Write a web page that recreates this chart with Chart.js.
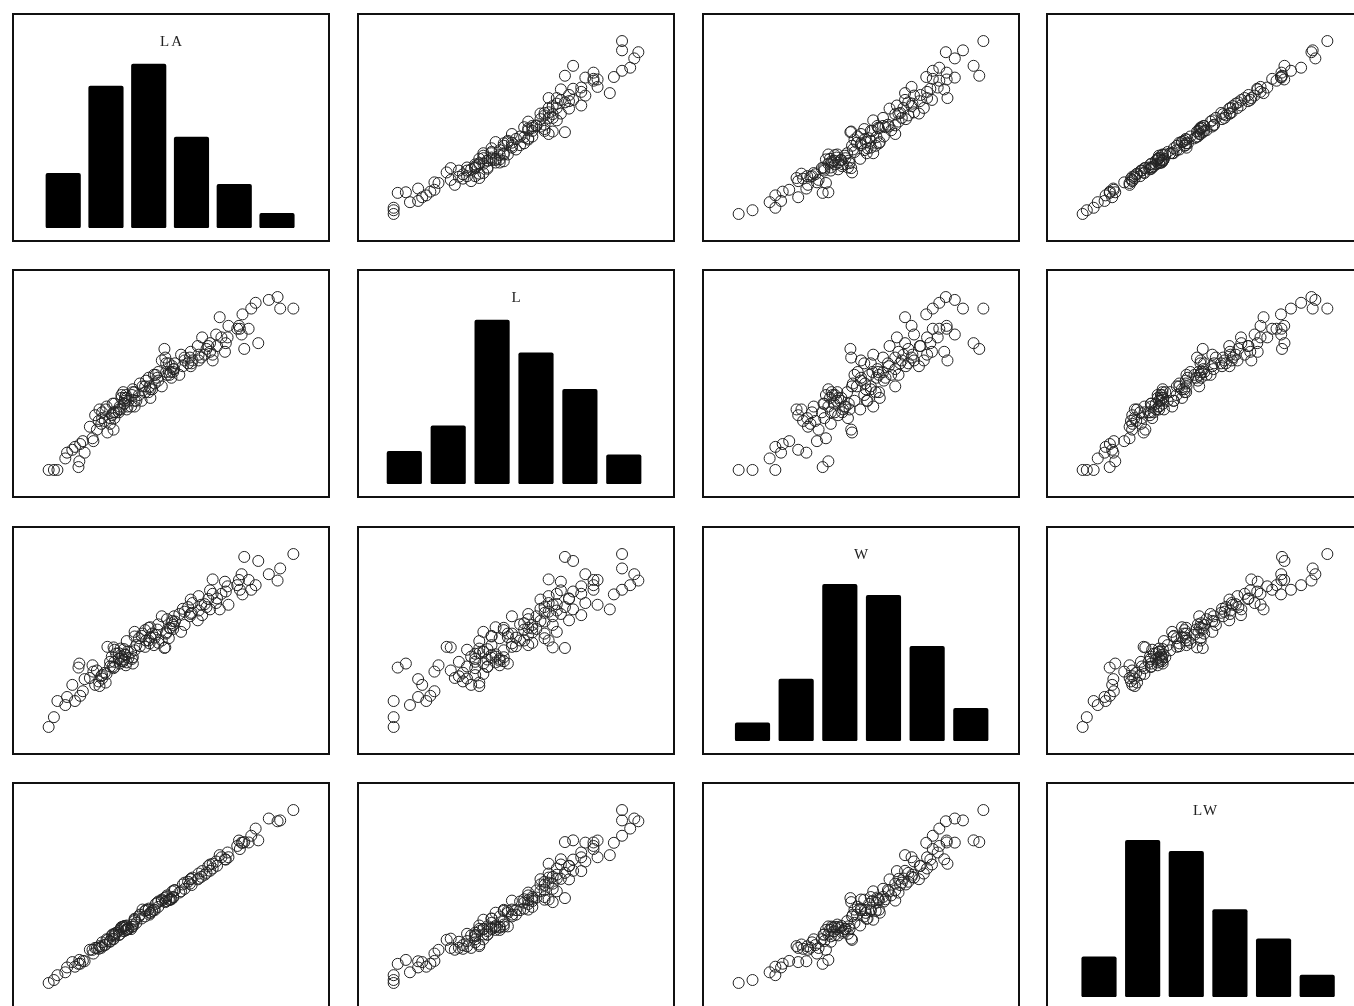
<!DOCTYPE html>
<html>
<head>
<meta charset="utf-8">
<title>Scatterplot matrix: LA, L, W, LW</title>
<script src="https://cdn.jsdelivr.net/npm/chart.js@4.4.1/dist/chart.umd.min.js"></script>
<style>
  html, body { margin: 0; padding: 0; background: #fff; overflow: hidden; width: 1354px; height: 1006px; }
  .panel { position: absolute; width: 318px; height: 229px; box-sizing: border-box; border: 2px solid #111; background: #fff; }
  .panel canvas { display: block; }
</style>
</head>
<body>
<script>
// Leaf measurements, one entry per leaf (140 leaves).
// L = length (cm), W = width (cm), LW = length x width, LA = leaf area (cm2)
const L = [
  4.0, 4.0, 4.0, 4.4, 4.1, 4.3, 4.6, 4.8, 4.9, 5.0,
  4.7, 4.6, 5.0, 5.1, 5.4, 5.3, 5.9, 6.1, 5.7, 5.5,
  6.0, 5.7, 6.2, 6.0, 6.3, 6.6, 6.0, 5.6, 5.4, 5.8,
  6.1, 6.7, 6.4, 6.7, 6.2, 5.8, 6.4, 6.1, 6.6, 6.4,
  6.2, 6.8, 6.7, 6.5, 6.9, 6.0, 6.3, 8.2, 7.9, 7.3,
  7.1, 7.7, 7.7, 8.0, 7.2, 7.4, 7.7, 8.3, 6.9, 7.9,
  8.6, 7.3, 7.8, 8.2, 7.7, 8.7, 8.0, 7.6, 8.3, 8.6,
  8.0, 8.1, 8.9, 8.6, 8.9, 7.9, 7.3, 7.4, 7.3, 7.4,
  8.4, 7.8, 7.8, 8.4, 8.0, 9.3, 9.0, 9.6, 9.8, 9.4,
  10.0, 9.9, 9.6, 9.6, 9.0, 8.7, 8.9, 8.4, 8.2, 8.1,
  7.8, 5.8, 5.9, 5.6, 6.0, 6.1, 6.2, 6.3, 6.4, 6.5,
  6.5, 6.6, 6.6, 6.7, 6.8, 6.8, 6.9, 6.3, 6.2, 6.4,
  6.7, 6.9, 6.1, 6.5, 7.0, 7.1, 7.2, 7.3, 7.4, 7.5,
  7.5, 7.6, 7.7, 7.8, 7.0, 7.2, 7.6, 7.9, 8.1, 8.3
];
const W = [
  2.00, 2.17, 2.45, 2.38, 3.03, 3.10, 2.52, 2.45, 2.54, 2.62,
  2.73, 2.83, 2.96, 3.07, 3.38, 3.39, 2.73, 2.77, 2.79, 2.85,
  2.90, 2.94, 2.92, 3.02, 3.04, 3.07, 3.13, 3.13, 2.98, 2.84,
  2.71, 3.21, 3.25, 3.33, 3.31, 3.34, 3.42, 3.49, 3.54, 3.58,
  3.65, 3.62, 3.72, 3.73, 3.39, 3.27, 3.17, 3.37, 3.38, 3.42,
  3.50, 3.54, 3.62, 3.65, 3.69, 3.77, 3.83, 3.85, 3.92, 3.92,
  3.94, 3.96, 4.00, 4.08, 4.08, 4.15, 4.13, 4.21, 4.23, 4.31,
  4.31, 4.37, 4.38, 4.44, 4.46, 3.77, 3.87, 3.71, 3.60, 3.46,
  4.04, 4.15, 4.27, 4.35, 4.02, 4.04, 4.12, 4.38, 4.46, 4.30,
  4.54, 4.65, 4.75, 5.00, 4.55, 4.65, 4.55, 4.88, 4.95, 4.52,
  4.56, 3.05, 3.22, 2.88, 3.18, 3.28, 3.10, 3.35, 3.20, 3.22,
  3.12, 3.15, 3.18, 3.14, 3.56, 3.10, 3.62, 3.05, 3.30, 3.57,
  3.68, 3.45, 3.36, 3.26, 3.55, 3.78, 3.50, 3.72, 3.64, 3.92,
  3.70, 3.84, 3.98, 3.50, 3.40, 3.80, 4.05, 4.12, 3.96, 4.22
];
const LW = [
  8.00, 8.68, 9.80, 10.47, 12.42, 13.33, 11.59, 11.76, 12.45, 13.10,
  12.83, 13.02, 14.80, 15.66, 18.25, 17.97, 16.11, 16.90, 15.90, 15.68,
  17.40, 16.76, 18.10, 18.12, 19.15, 20.26, 18.78, 17.53, 16.09, 16.47,
  16.53, 21.51, 20.80, 22.31, 20.52, 19.37, 21.89, 21.29, 23.36, 22.91,
  22.63, 24.62, 24.92, 24.25, 23.39, 19.62, 19.97, 27.63, 26.70, 24.97,
  24.85, 27.26, 27.87, 29.20, 26.57, 27.90, 29.49, 31.96, 27.05, 30.97,
  33.88, 28.91, 31.20, 33.46, 31.42, 36.11, 33.04, 32.00, 35.11, 37.07,
  34.48, 35.40, 38.98, 38.18, 39.69, 29.78, 28.25, 27.45, 26.28, 25.60,
  33.94, 32.37, 33.31, 36.54, 32.16, 37.57, 37.08, 42.05, 43.71, 40.42,
  45.40, 46.04, 45.60, 48.00, 40.95, 40.46, 40.50, 40.99, 40.59, 36.61,
  35.57, 17.69, 19.00, 16.13, 19.08, 20.01, 19.22, 21.11, 20.48, 20.93,
  20.28, 20.79, 20.99, 21.04, 24.21, 21.08, 24.98, 19.22, 20.46, 22.85,
  24.66, 23.81, 20.50, 21.19, 24.85, 26.84, 25.20, 27.16, 26.94, 29.40,
  27.75, 29.18, 30.65, 27.30, 23.80, 27.36, 30.78, 32.55, 32.08, 35.03
];
const LA = [
  5.5, 6.1, 6.5, 7.4, 8.9, 9.0, 7.6, 8.5, 9.1, 9.4,
  8.2, 9.6, 10.6, 10.5, 12.9, 12.2, 10.8, 12.0, 11.2, 10.2,
  11.6, 11.9, 12.1, 12.9, 13.0, 14.3, 13.0, 12.5, 11.0, 11.6,
  11.3, 15.1, 14.2, 15.3, 14.5, 13.0, 15.5, 14.4, 15.8, 16.1,
  15.3, 17.3, 16.9, 17.1, 16.5, 13.2, 14.1, 18.7, 18.8, 17.5,
  16.6, 19.2, 18.9, 20.6, 17.9, 19.7, 19.9, 22.5, 18.4, 21.6,
  23.0, 20.4, 21.0, 23.5, 21.4, 24.6, 23.3, 21.7, 24.7, 25.2,
  24.2, 23.9, 27.3, 25.9, 27.0, 21.0, 19.0, 19.4, 17.7, 18.0,
  23.9, 21.9, 22.6, 25.7, 22.6, 25.0, 26.0, 28.6, 29.1, 27.6,
  31.6, 30.6, 31.9, 33.4, 27.2, 27.5, 28.3, 29.4, 27.8, 25.6,
  24.2, 12.5, 12.7, 11.5, 13.5, 13.5, 13.6, 14.1, 14.6, 13.8,
  14.4, 13.8, 15.0, 14.0, 17.1, 15.1, 16.2, 12.8, 14.9, 15.3,
  16.5, 17.0, 13.7, 14.2, 17.6, 18.0, 16.9, 19.3, 18.9, 19.8,
  19.7, 19.6, 21.8, 18.4, 15.9, 19.5, 20.8, 22.9, 21.7, 23.7
];

// Histogram counts (six equal-width classes per variable)
const laCounts = [15, 39, 45, 25, 12, 4];
const lCounts  = [9, 16, 45, 36, 26, 8];
const wCounts  = [5, 17, 43, 40, 26, 9];
const lwCounts = [11, 43, 40, 24, 16, 6];

// Variable names shown on the diagonal
const varLabels = ['LA', 'L', 'W', 'LW'];

const variables = [
  { label: varLabels[0], values: LA, counts: laCounts, binRange: [-1.151, 6.193] },
  { label: varLabels[1], values: L,  counts: lCounts,  binRange: [-1.032, 6.121] },
  { label: varLabels[2], values: W,  counts: wCounts,  binRange: [-1.111, 6.081] },
  { label: varLabels[3], values: LW, counts: lwCounts, binRange: [-1.169, 6.027] }
];

const colLeft = [12, 357, 702, 1046];
const rowTop  = [13, 269, 526, 782];
const CANVAS_W = 314, CANVAS_H = 225;

function paddedRange(vals, pad) {
  const mn = Math.min(...vals), mx = Math.max(...vals), r = mx - mn;
  return [mn - r * pad, mx + r * pad];
}

// Draws the variable name at the top of a diagonal panel
const panelLabel = {
  id: 'panelLabel',
  afterDraw(chart, args, opts) {
    if (!opts || !opts.text) return;
    const ctx = chart.ctx;
    ctx.save();
    ctx.font = '15px "Liberation Serif", "Times New Roman", serif';
    ctx.fillStyle = '#222';
    ctx.textAlign = 'center';
    ctx.textBaseline = 'alphabetic';
    ctx.letterSpacing = '2px';
    ctx.fillText(opts.text, chart.width / 2 + 1, 31);
    ctx.restore();
  }
};
Chart.register(panelLabel);

const baseOptions = () => ({
  responsive: false,
  animation: false,
  devicePixelRatio: 1,
  events: [],
  layout: { padding: 0 },
  plugins: { legend: { display: false }, tooltip: { enabled: false }, panelLabel: {} }
});

for (let r = 0; r < 4; r++) {
  for (let c = 0; c < 4; c++) {
    const div = document.createElement('div');
    div.className = 'panel';
    div.style.left = colLeft[c] + 'px';
    div.style.top = rowTop[r] + 'px';
    const canvas = document.createElement('canvas');
    canvas.width = CANVAS_W;
    canvas.height = CANVAS_H;
    canvas.style.width = CANVAS_W + 'px';
    canvas.style.height = CANVAS_H + 'px';
    div.appendChild(canvas);
    document.body.appendChild(div);

    const opts = baseOptions();
    if (r === c) {
      const v = variables[r];
      opts.layout = { padding: { bottom: 12 } };
      opts.scales = {
        x: { type: 'linear', display: false, min: v.binRange[0], max: v.binRange[1], offset: false },
        y: { type: 'linear', display: false, min: 0, max: 58.5 }
      };
      opts.plugins.panelLabel = { text: v.label };
      new Chart(canvas, {
        type: 'bar',
        data: {
          datasets: [{
            data: v.counts.map((n, i) => ({ x: i, y: n })),
            backgroundColor: '#000',
            borderWidth: 0,
            borderRadius: 2,
            borderSkipped: false,
            barThickness: 34.5
          }]
        },
        options: opts
      });
    } else {
      const xv = variables[c], yv = variables[r];
      const xr = paddedRange(xv.values, 0.115);
      const yr = paddedRange(yv.values, 0.113);
      opts.scales = {
        x: { type: 'linear', display: false, min: xr[0], max: xr[1] },
        y: { type: 'linear', display: false, min: yr[0], max: yr[1] }
      };
      new Chart(canvas, {
        type: 'scatter',
        data: {
          datasets: [{
            data: xv.values.map((x, i) => ({ x: x, y: yv.values[i] })),
            pointRadius: 5.5,
            pointHoverRadius: 5.5,
            borderWidth: 1,
            borderColor: '#222',
            backgroundColor: 'rgba(255,255,255,0)'
          }]
        },
        options: opts
      });
    }
  }
}
</script>
</body>
</html>
